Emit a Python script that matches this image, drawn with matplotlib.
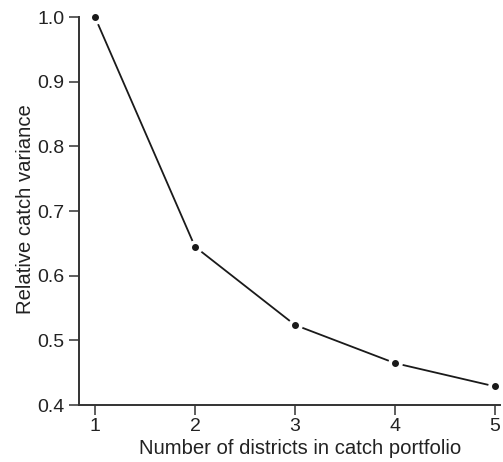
import matplotlib
matplotlib.use("Agg")
import matplotlib.pyplot as plt

districts = [1, 2, 3, 4, 5]
rel_variance = [1.0, 0.645, 0.524, 0.465, 0.429]
yticks = [0.4, 0.5, 0.6, 0.7, 0.8, 0.9, 1.0]
ytick_labels = ["0.4", "0.5", "0.6", "0.7", "0.8", "0.9", "1.0"]

plt.rcParams['font.family'] = ['Liberation Sans', 'DejaVu Sans']

fig = plt.figure(figsize=(5.03, 4.62), dpi=100)
ax = fig.add_axes([0.157, 0.123, 0.837, 0.840])

ax.plot(districts, rel_variance, color='#1a1a1a', lw=1.3, zorder=1, clip_on=False)
ax.plot(districts, rel_variance, 'o', ms=9.5, mfc='white', mec='white', zorder=2, clip_on=False)
ax.plot(districts, rel_variance, 'o', ms=4, mfc='#1a1a1a', mec='#1a1a1a', zorder=3, clip_on=False)

ax.set_xlim(0.84, 5.05)
ax.set_ylim(0.4, 1.0)
ax.set_xticks(districts)
ax.set_yticks(yticks)
ax.set_yticklabels(ytick_labels)

for s in ['top', 'right']:
    ax.spines[s].set_visible(False)
for s in ['left', 'bottom']:
    ax.spines[s].set_linewidth(1.4)
    ax.spines[s].set_color('#333333')

ax.tick_params(axis='both', direction='out', length=7, width=1.1, colors='#333333',
               labelsize=14, labelcolor='#222222')
ax.tick_params(axis='y', pad=3.5)
ax.tick_params(axis='x', pad=2.5)

ax.set_xlabel("Number of districts in catch portfolio", fontsize=14.6, color='#222222')
ax.set_ylabel("Relative catch variance", fontsize=14.6, color='#222222')
ax.xaxis.set_label_coords(0.525, -0.088)
ax.yaxis.set_label_coords(-0.104, 0.505)

fig.savefig("out.png", dpi=100)
